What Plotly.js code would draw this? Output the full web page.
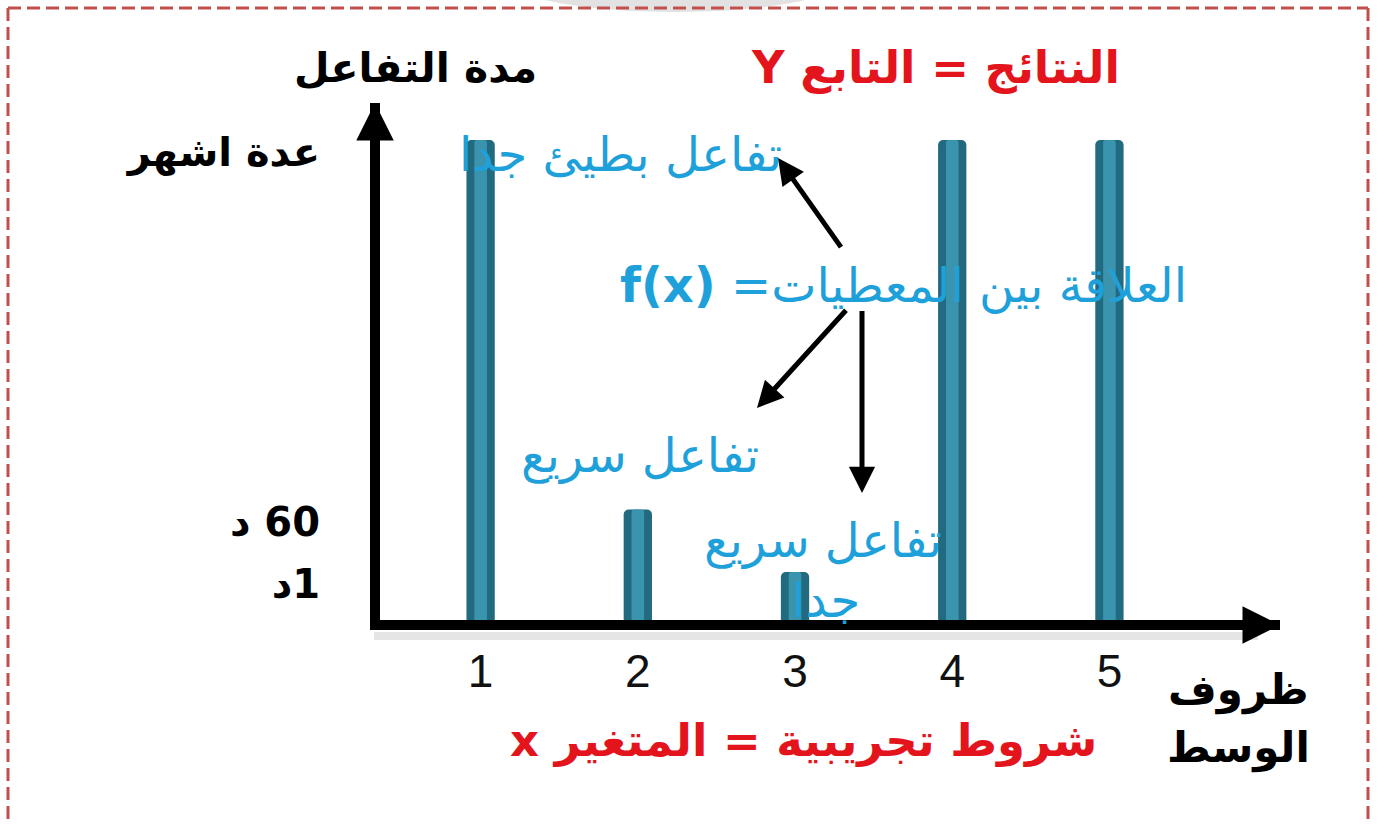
<!DOCTYPE html>
<html lang="ar">
<head>
<meta charset="utf-8">
<title>مدة التفاعل حسب ظروف الوسط</title>
<script src="https://cdn.plot.ly/plotly-3.0.1.min.js"></script>
<style>
  html, body { margin: 0; padding: 0; background: #ffffff; }
  #chart { width: 1378px; height: 825px; }
</style>
</head>
<body>
<div id="chart"></div>
<script>
// Experimental conditions (x) and the resulting reaction duration (y, schematic scale)
const conditions = [1, 2, 3, 4, 5];
const conditionLabels = ['1', '2', '3', '4', '5'];
const reactionDuration = [10, 2.3, 1, 10, 10];

// Duration levels on the vertical axis: 1 minute, 60 minutes, several months
const durationLevels = [1, 2.3, 10];
const durationLabels = ['\u202B1د\u202C', '\u202B60 د\u202C', 'عدة اشهر'];

const W = 1378, H = 825;
const M = { l: 380, r: 98, t: 103, b: 205 };
const plotW = W - M.l - M.r;
const plotH = H - M.t - M.b;

// page pixel -> paper coordinate helpers for text and decorations
const px = v => (v - M.l) / plotW;
const py = v => (H - M.b - v) / plotH;

const AR = 'DejaVu Sans, Liberation Sans, sans-serif';
const CYAN = '#1EA0DA';
const RED = '#E3141C';
const TEAL_DARK = '#226A80';
const TEAL_LIGHT = '#3A94AD';

const traces = [
  {
    type: 'bar',
    x: conditions,
    y: reactionDuration,
    width: 0.18,
    marker: { color: TEAL_DARK, cornerradius: 5, line: { width: 0 } },
    hoverinfo: 'skip'
  },
  {
    type: 'bar',
    x: conditions,
    y: reactionDuration,
    width: 0.08,
    marker: { color: TEAL_LIGHT, cornerradius: 3, line: { width: 0 } },
    hoverinfo: 'skip'
  }
];

function label(text, x, y, color, size, bold) {
  return {
    text: text, xref: 'paper', yref: 'paper', x: px(x), y: py(y),
    showarrow: false, xanchor: 'center', yanchor: 'middle',
    font: { family: AR, size: size, color: color, weight: bold ? 'bold' : 'normal' }
  };
}

function arrow(tipX, tipY, tailX, tailY, width, size) {
  return {
    text: ' ', xref: 'paper', yref: 'paper', x: px(tipX), y: py(tipY),
    ax: tailX - tipX, ay: tailY - tipY, axref: 'pixel', ayref: 'pixel',
    showarrow: true, arrowhead: 2, arrowwidth: width, arrowsize: size,
    arrowcolor: '#000000', standoff: 0, startstandoff: 0,
    font: { size: 2 }
  };
}

const annotations = [
  label('مدة التفاعل', 415, 68, '#000000', 41, true),
  label('\u202Bالنتائج = التابع Y\u202C', 935, 68, RED, 45, true),
  label('تفاعل بطيئ جدا', 620, 154, CYAN, 48, false),
  label('\u202Bالعلاقة بين المعطيات= <b>f(x)</b>\u202C', 903, 285, CYAN, 48, false),
  label('تفاعل سريع', 640, 455, CYAN, 48, false),
  label('تفاعل سريع', 823, 540, CYAN, 48, false),
  label('جدا', 826, 600, CYAN, 48, false),
  label('ظروف', 1238, 690, '#000000', 42, true),
  label('الوسط', 1238, 748, '#000000', 42, true),
  label('\u202Bشروط تجريبية = المتغير x\u202C', 803, 740, RED, 45, true),

  // relationship arrows
  arrow(778, 158, 843, 250, 5, 1.05),
  arrow(757, 408, 848, 308, 5, 1.05),
  arrow(862, 493, 862, 308, 5, 1.05),

  // axis arrowheads
  arrow(1280, 625, 1240, 625, 10, 0.75),
  arrow(375, 103, 375, 143, 10, 0.75)
];

const border = { color: '#C0504D', width: 3, dash: '13px,6px' };
const shapes = [
  { type: 'circle', xref: 'paper', yref: 'paper', layer: 'below',
    x0: px(500), x1: px(850), y0: py(-60), y1: py(12),
    fillcolor: '#e2e2e2', line: { width: 0 } },
  { type: 'line', xref: 'paper', yref: 'paper', x0: px(8), x1: px(1368), y0: py(8), y1: py(8), line: border },
  { type: 'line', xref: 'paper', yref: 'paper', x0: px(8), x1: px(8), y0: py(8), y1: py(830), line: border },
  { type: 'line', xref: 'paper', yref: 'paper', x0: px(1368), x1: px(1368), y0: py(8), y1: py(830), line: border },
  // soft shadow under the horizontal axis
  { type: 'line', xref: 'paper', yref: 'paper', layer: 'below', x0: px(374), x1: px(1258), y0: py(636), y1: py(636),
    line: { color: 'rgba(0,0,0,0.10)', width: 8 } }
];

const layout = {
  width: W, height: H,
  margin: M,
  paper_bgcolor: '#ffffff',
  plot_bgcolor: '#ffffff',
  showlegend: false,
  barmode: 'overlay',
  xaxis: {
    range: [0.36, 6.085],
    tickvals: conditions, ticktext: conditionLabels,
    ticks: '', showgrid: false, zeroline: false,
    showline: true, linewidth: 10, linecolor: '#000000', layer: 'below traces',
    ticklabelstandoff: 2,
    tickfont: { family: 'Liberation Sans, Arial, sans-serif', size: 46, color: '#111111' },
    fixedrange: true
  },
  yaxis: {
    range: [0, plotH / 48],
    tickvals: durationLevels, ticktext: durationLabels,
    ticks: '', showgrid: false, zeroline: false,
    showline: true, linewidth: 10, linecolor: '#000000', layer: 'below traces',
    ticklabelstandoff: 42,
    ticklabelshift: 12,
    tickfont: { family: AR, size: 40, color: '#000000', weight: 'bold' },
    fixedrange: true
  },
  annotations: annotations,
  shapes: shapes
};

Plotly.newPlot('chart', traces, layout, { staticPlot: true, displayModeBar: false });
</script>
</body>
</html>
